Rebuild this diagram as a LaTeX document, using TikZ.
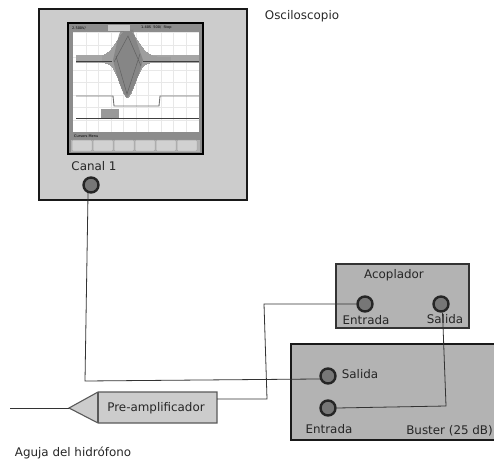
\documentclass[tikz,border=0pt]{standalone}
\usepackage{fontspec}
\setmainfont{DejaVu Sans}
\definecolor{caja}{HTML}{CCCCCC}
\definecolor{cajados}{HTML}{B3B3B3}
\definecolor{puerto}{HTML}{777777}
\definecolor{cable}{HTML}{333333}
\tikzset{
  puertonodo/.style={circle,draw=black!85,line width=2.4pt,fill=puerto,minimum size=15pt,inner sep=0pt},
  etiqueta/.style={font=\fontsize{11.9}{13}\selectfont,text=black!85,inner sep=0pt},
  wire/.style={cable,line width=0.8pt},
  boton/.style={draw=black!35,fill=black!18,line width=0.5pt,rounded corners=1pt},
  diminuto/.style={font=\fontsize{3.5}{4}\selectfont,inner sep=0pt,anchor=west}
}
\begin{document}
\begin{tikzpicture}[x=1pt,y=-1pt]
\useasboundingbox (0,0) rectangle (494,460);
% cajas
\draw[black!90,line width=2.8pt,fill=caja] (39,9) rectangle (247,200);
\draw[black!80,line width=1.8pt,fill=cajados] (336,264) rectangle (469,328);
\draw[black!90,line width=2.2pt,fill=cajados] (291,344) rectangle (500,440);
% pantalla
\fill[black!45] (68,23) rectangle (203,154);
\fill[white] (73,32) rectangle (199,132);
\foreach \x in {86,98.5,111,123.5,136,148.5,161,173.5,186}
  \draw[black!9,line width=0.6pt] (\x,32) -- (\x,132);
\foreach \y in {32,45,57,70,82,95,107,120}
  \draw[black!9,line width=0.6pt] (73,\y) -- (199,\y);
\fill[black!35] (76,55) rectangle (199,63);
\foreach \x in {102,103,...,170}
  \draw[black!38,line width=0.9pt] (\x,{57-27*exp(-((\x-127)/15)^2)}) -- (\x,{63+35*exp(-((\x-127)/11)^2)});
\fill[black!50,opacity=0.8] (113,60) .. controls (116,48) and (119,30) .. (122,30) -- (133,30) .. controls (136,40) and (140,52) .. (143,60) .. controls (140,72) and (133,92) .. (127,98) .. controls (121,92) and (116,72) .. (113,60) -- cycle;
\draw[black!62,line width=0.5pt] (114,62) -- (128,36) -- (141,66) (116,56) -- (127,94) -- (140,54);
\draw[black!75,line width=1.4pt] (76,61.5) -- (112,61.5) (143,61.5) -- (199,61.5);
\draw[black!55,line width=0.9pt] (76,96) -- (113,96) -- (114,106) -- (159,106) -- (160,96) -- (199,96);
\draw[black!75,line width=0.9pt] (76,118) -- (199,118);
\fill[black!40] (101,109) rectangle (119,118);
\fill[black!45] (71,132) rectangle (200,140);
\fill[black!30] (71,140) rectangle (200,152);
\foreach \x in {72,93,114,135,156,177}
  \draw[boton] (\x,140) rectangle (\x+20,151);
\fill[black!22] (108,25) rectangle (130,31);
\draw[black,line width=2.2pt] (68,23) rectangle (203,154);
\node[diminuto] (titulo) at (72,28) {2.500V/};
\node[diminuto] (estado) at (141,28) {1.40S\ \ 500/\ \ Stop};
\node[diminuto] (menu) at (74,136) {Cursors Menu};
% puertos
\node[puertonodo] (canal) at (91,185) {};
\node[puertonodo] (aent) at (365,304) {};
\node[puertonodo] (asal) at (441,304) {};
\node[puertonodo] (bsal) at (328,376) {};
\node[puertonodo] (bent) at (328,408) {};
% preamplificador
\draw[black!65,line width=1.1pt,fill=caja] (98,392) -- (217,392) -- (217,423) -- (98,423) -- (69,408) -- cycle;
\draw[black!65,line width=1.1pt] (98,392) -- (98,423);
\node[etiqueta] (pre) at (156,408) {Pre-amplificador};
\coordinate (punta) at (69,408);
\coordinate (aguja) at (10,408);
\coordinate (presal) at (217,399);
\draw[wire] (aguja) -- (punta);
% cables
\coordinate (c1) at (85,381);
\coordinate (c2) at (264,304);
\coordinate (c3) at (267,399);
\coordinate (c4) at (446,406);
\draw[wire] (canal.250) -- (c1) -- (bsal.200);
\draw[wire] (aent.west) -- (c2) -- (c3) -- (presal);
\draw[wire] (asal.280) -- (c4) -- (bent.east);
% textos
\node[etiqueta] (osc) at (302,16) {Osciloscopio};
\node[etiqueta] (can) at (94,166) {Canal 1};
\node[etiqueta] (aco) at (394,275) {Acoplador};
\node[etiqueta] (t1) at (366,320) {Entrada};
\node[etiqueta] (t2) at (445,319) {Salida};
\node[etiqueta] (t3) at (360,374) {Salida};
\node[etiqueta] (t4) at (329,429) {Entrada};
\node[etiqueta,anchor=east] (bus) at (493,431) {Buster (25 dB)};
\node[etiqueta] (agu) at (73,453) {Aguja del hidrófono};
\end{tikzpicture}
\end{document}
